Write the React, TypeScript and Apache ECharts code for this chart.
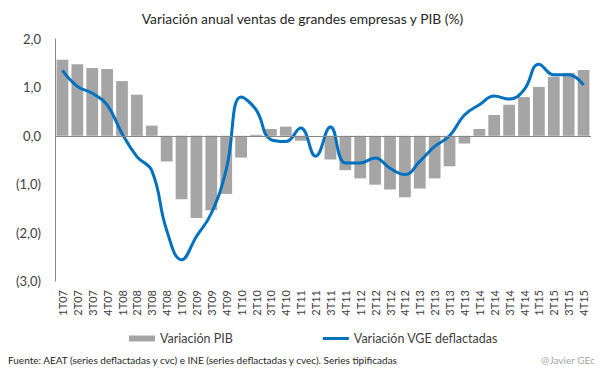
import React, { useEffect, useRef } from "react";
import * as echarts from "echarts";

const categories = [
  "1T07","2T07","3T07","4T07","1T08","2T08","3T08","4T08","1T09","2T09","3T09","4T09",
  "1T10","2T10","3T10","4T10","1T11","2T11","3T11","4T11","1T12","2T12","3T12","4T12",
  "1T13","2T13","3T13","4T13","1T14","2T14","3T14","4T14","1T15","2T15","3T15","4T15",
];

const pibValues = [
  1.57, 1.48, 1.4, 1.38, 1.13, 0.85, 0.21, -0.53, -1.31, -1.7, -1.54, -1.2,
  -0.45, 0.02, 0.14, 0.19, -0.1, 0.0, -0.49, -0.71, -0.88, -1.01, -1.11, -1.27,
  -1.09, -0.88, -0.63, -0.16, 0.14, 0.43, 0.64, 0.8, 1.01, 1.22, 1.3, 1.36,
];

const vgeValues = [
  1.35, 1.02, 0.88, 0.64, 0.05, -0.43, -0.72, -1.95, -2.56, -2.08, -1.6, -0.7,
  0.8, 0.54, -0.08, -0.12, 0.16, -0.42, 0.18, -0.56, -0.56, -0.46, -0.67, -0.8,
  -0.53, -0.22, 0.0, 0.43, 0.64, 0.82, 0.76, 0.95, 1.48, 1.26, 1.26, 1.05,
];

const titleText = "Variación anual ventas de grandes empresas y PIB (%)";
const sourceText =
  "Fuente: AEAT (series deflactadas y cvc) e INE (series deflactadas y cvec). Series tipificadas";
const authorText = "@Javier GEc";

const FONT = "Lato, 'Open Sans', sans-serif";

function fmt(v: number): string {
  const s = Math.abs(v).toFixed(1).replace(".", ",");
  return v < 0 ? `(${s})` : s;
}

export default function App() {
  const ref = useRef<HTMLDivElement>(null);
  useEffect(() => {
    if (!ref.current) return;
    const chart = echarts.init(ref.current, null, { renderer: "svg" });
    chart.setOption({
      animation: false,
      backgroundColor: "#ffffff",
      textStyle: { fontFamily: FONT },
      title: {
        text: titleText,
        left: "center",
        top: 6,
        textStyle: { fontFamily: FONT, fontSize: 13.8, fontWeight: "normal", color: "#262626" },
      },
      grid: { left: 55, right: 14, top: 39, bottom: 98 },
      legend: {
        left: 124,
        top: 327,
        itemWidth: 26,
        itemHeight: 6,
        itemGap: 90,
        symbolKeepAspect: true,
        textStyle: { fontFamily: FONT, fontSize: 12.5, color: "#404040" },
        data: [
          { name: "Variación PIB", icon: "rect" },
          { name: "Variación VGE deflactadas", icon: "path://M0,0H26V3H0Z" },
        ],
      },
      xAxis: {
        type: "category",
        data: categories,
        axisLine: { show: false, onZero: false },
        axisTick: { show: false },
        axisLabel: {
          rotate: 90,
          interval: 0,
          margin: 9,
          fontSize: 11,
          fontFamily: FONT,
          color: "#404040",
        },
      },
      yAxis: {
        type: "value",
        min: -3,
        max: 2,
        interval: 1,
        splitLine: { show: false },
        axisLine: { show: true, lineStyle: { color: "#868686", width: 1 } },
        axisTick: { show: false },
        axisLabel: {
          formatter: fmt,
          margin: 14,
          fontSize: 13,
          fontFamily: FONT,
          color: "#404040",
        },
      },
      series: [
        {
          name: "Variación PIB",
          type: "bar",
          data: pibValues,
          barCategoryGap: "21%",
          itemStyle: { color: "#A5A5A5" },
          markLine: {
            silent: true,
            symbol: "none",
            label: { show: false },
            lineStyle: { color: "#868686", width: 1, type: "solid" },
            data: [{ yAxis: 0 }],
          },
        },
        {
          name: "Variación VGE deflactadas",
          type: "line",
          data: vgeValues,
          smooth: 0.45,
          symbol: "none",
          lineStyle: { color: "#0070C0", width: 3 },
          itemStyle: { color: "#0070C0" },
        },
      ],
      graphic: [
        {
          type: "text",
          left: 8,
          top: 355,
          style: { text: sourceText, fontSize: 10, fontFamily: FONT, fill: "#262626" },
        },
        {
          type: "text",
          right: 10,
          top: 355,
          style: { text: authorText, fontSize: 10, fontFamily: FONT, fill: "#A6A6A6" },
        },
      ],
    });
    return () => chart.dispose();
  }, []);
  return (
    <div
      ref={ref}
      style={{ position: "fixed", left: 0, top: 0, width: 605, height: 379 }}
    />
  );
}
